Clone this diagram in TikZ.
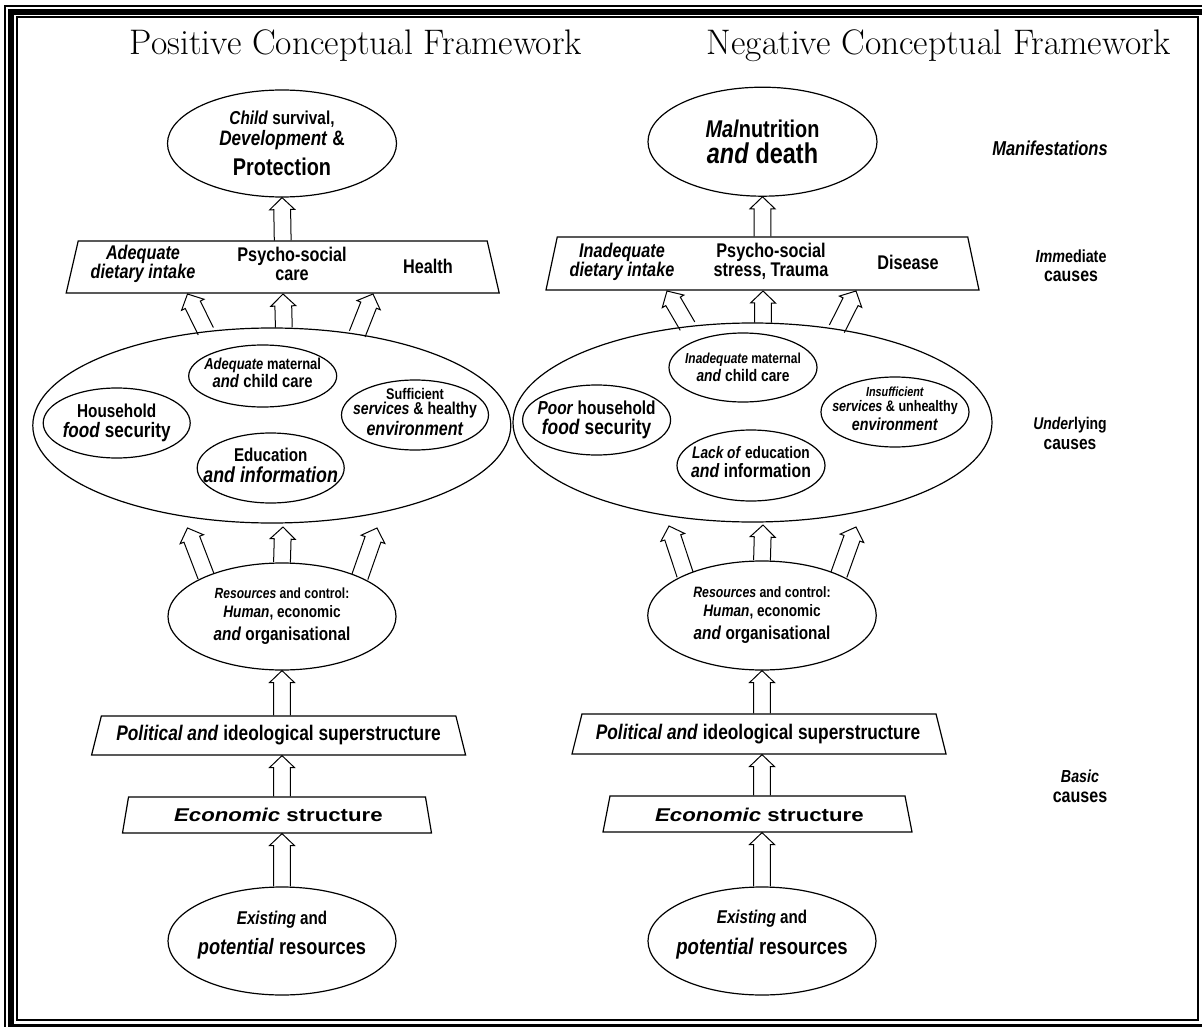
\documentclass[tikz,border=0pt]{standalone}
\usepackage{fontspec}
\usetikzlibrary{calc,shapes.geometric}

\newfontfamily\dg{Liberation Sans}[FakeStretch=0.82]
\newfontfamily\dgwide{Liberation Sans}[FakeStretch=1.2]
\newcommand{\fs}[1]{\fontsize{#1}{#1}\selectfont}

% hollow block arrow, base #1, tip #2
\newcommand{\hollowup}[2]{%
  \coordinate (hh) at ($(#2)!12pt!(#1)$);
  \draw[hollowarr] ($(#1)!8.4pt!90:(#2)$) -- ($(hh)!8.4pt!-90:(#1)$) -- ($(hh)!12.5pt!-90:(#1)$) -- (#2)
    -- ($(hh)!12.5pt!90:(#1)$) -- ($(hh)!8.4pt!90:(#1)$) -- ($(#1)!8.4pt!-90:(#2)$);
}

\tikzset{
  oval/.style={draw, ellipse, line width=1.2pt, inner sep=0pt},
  trap/.style={draw, trapezium, trapezium stretches body, line width=1.2pt, inner xsep=0pt},
  lbl/.style={align=center, inner sep=0pt, font=\dg\bfseries},
  lgap/.style={font=\dg\bfseries\fontsize{10}{#1}\selectfont},
  hollowarr/.style={line width=1pt, line join=miter},
}

\begin{document}
\begin{tikzpicture}[x=1pt, y=-1pt]
\clip (0,0) rectangle (1202,1027);
\fill[white] (0,0) rectangle (1202,1027);
% frame
\draw[line width=2pt] (4.5,5.8) rectangle (1211,1033);
\draw[line width=6pt] (11.3,12) rectangle (1204.5,1026.7);
\draw[line width=2pt] (16.7,17.2) rectangle (1198.2,1020.2);

% titles
\node[anchor=base, inner sep=0pt, font=\fontsize{35.5}{38}\selectfont] (posTitle) at (356,55) {Positive Conceptual Framework};
\node[anchor=base, inner sep=0pt, font=\fontsize{35.5}{38}\selectfont] (negTitle) at (939,55) {Negative Conceptual Framework};

% positive framework
\node[oval, minimum width=229pt, minimum height=107pt, label={[lbl, lgap=20.5]center:{\fs{18.7}\textit{Child} survival,\\\fs{20.9}\textit{Development} \&\\[7.5pt]\fs{24.2}Protection}}] (posTop) at (282,143.5) {};

\node[trap, minimum width=433pt, inner ysep=26pt, trapezium left angle=77, trapezium right angle=77] (posImm) at (282.7,267) {};
\node[lbl, lgap=19] (posDiet) at (143,264) {\fs{19.8}\textit{Adequate}\\\fs{19.8}\textit{dietary intake}};
\node[lbl, lgap=19] (posPsy) at (292,264) {\fs{19.8}Psycho-social\\\fs{19.8}care};
\node[lbl, font=\dg\bfseries\fs{19.8}] (posHealth) at (428,266) {Health};

\node[oval, minimum width=478pt, minimum height=195pt] (posUnd) at (271.8,425.5) {};
\node[oval, minimum width=148pt, minimum height=62pt, label={[lbl, lgap=18, yshift=3pt]center:{\fs{15.8}\textit{Adequate} maternal\\\fs{18.1}\textit{and} child care}}] (posCare) at (262.7,376) {};
\node[oval, minimum width=147pt, minimum height=70pt, label={[lbl, lgap=20]center:{\fs{18.7}Household\\\fs{20.9}\textit{food} security}}] (posFood) at (116.7,423) {};
\node[oval, minimum width=147pt, minimum height=70pt, label={[lbl, lgap=15.5, yshift=3pt]center:{\fs{15.4}Sufficient\\\fs{17.2}\textit{services} \& healthy\\[2.5pt]\fs{19.6}\textit{environment}}}] (posServ) at (415,415) {};
\node[oval, minimum width=147pt, minimum height=70pt, label={[lbl, lgap=21, yshift=3pt]center:{\fs{18.5}Education\\\fs{21.7}\textit{and information}}}] (posEdu) at (270.7,468) {};

\node[oval, minimum width=228pt, minimum height=107pt, label={[lbl, lgap=18.5]center:{\fs{14.7}\textit{Resources} and control:\\\fs{16.6}\textit{Human}, economic\\[5pt]\fs{18.7}\textit{and} organisational}}] (posRes) at (282,616.5) {};

\node[trap, minimum width=374pt, inner ysep=19.5pt, trapezium left angle=76, trapezium right angle=76] (posPol) at (278.6,735.5) {};
\node[lbl, font=\dg\bfseries\fs{21.1}] (posPolTxt) at (278.5,735) {\textit{Political and} ideological superstructure};

\node[trap, minimum width=309pt, inner ysep=18pt, trapezium left angle=80.5, trapezium right angle=80.5] (posEco) at (277,815) {};
\node[lbl, font=\dgwide\bfseries\fs{18.5}] (posEcoTxt) at (278.4,815) {\textit{Economic} structure};

\node[oval, minimum width=228pt, minimum height=108pt, label={[lbl, lgap=30, yshift=6pt]center:{\fs{18.5}\textit{Existing} and\\\fs{22.2}\textit{potential} resources}}] (posExist) at (282,941) {};

% arrows, positive
\hollowup{posImm.north}{posTop.south}
\coordinate (pu1) at (187.5,294);
\coordinate (pu2) at (283,294);
\coordinate (pu3) at (373,294);
\hollowup{posUnd.125}{pu1}
\hollowup{posUnd.83}{pu2}
\hollowup{posUnd.47}{pu3}
\coordinate (pl1) at (187.5,528);
\coordinate (pl2) at (283,527);
\coordinate (pl3) at (377,528);
\hollowup{posRes.152}{pl1}
\hollowup{posRes.north}{pl2}
\hollowup{posRes.27}{pl3}
\coordinate (pp1) at (posPol.north -| posRes.south);
\hollowup{pp1}{posRes.south}
\coordinate (pe1) at (posEco.north -| posRes.south);
\coordinate (pe2) at (posPol.south -| posRes.south);
\hollowup{pe1}{pe2}
\coordinate (px1) at (posEco.south -| posExist.north);
\hollowup{posExist.north}{px1}

% negative framework
\node[oval, minimum width=229pt, minimum height=109pt, label={[lbl, lgap=25.5]center:{\fs{24.2}\textit{Mal}nutrition\\\fs{28.6}\textit{and} death}}] (negTop) at (762.5,141.7) {};

\node[trap, minimum width=433pt, inner ysep=26.5pt, trapezium left angle=78, trapezium right angle=78] (negImm) at (762.5,263.5) {};
\node[lbl, lgap=19] (negDiet) at (622,261.5) {\fs{19.8}\textit{Inadequate}\\\fs{19.8}\textit{dietary intake}};
\node[lbl, lgap=19] (negPsy) at (771,261.5) {\fs{19.8}Psycho-social\\\fs{19.8}stress, Trauma};
\node[lbl, font=\dg\bfseries\fs{19.8}] (negDis) at (908,262) {Disease};

\node[oval, minimum width=479pt, minimum height=199pt] (negUnd) at (752.5,422.5) {};
\node[oval, minimum width=148pt, minimum height=69pt, label={[lbl, lgap=18]center:{\fs{14.5}\textit{Inadequate} maternal\\\fs{16.8}\textit{and} child care}}] (negCare) at (743,367.5) {};
\node[oval, minimum width=148pt, minimum height=70pt, label={[lbl, lgap=20]center:{\fs{18.8}\textit{Poor} household\\\fs{21.2}\textit{food} security}}] (negFood) at (596.6,420) {};
\node[oval, minimum width=148pt, minimum height=70pt, label={[lbl, lgap=15, yshift=3pt]center:{\fs{13.2}\textit{Insufficient}\\\fs{15.3}\textit{services} \& unhealthy\\[2pt]\fs{17.4}\textit{environment}}}] (negServ) at (895,412) {};
\node[oval, minimum width=148pt, minimum height=71pt, label={[lbl, lgap=19, yshift=3pt]center:{\fs{16.7}\textit{Lack of} education\\\fs{19.3}\textit{and} information}}] (negEdu) at (751,465.5) {};

\node[oval, minimum width=228.5pt, minimum height=109pt, label={[lbl, lgap=19]center:{\fs{15}\textit{Resources} and control:\\\fs{16.6}\textit{Human}, economic\\[4pt]\fs{18.7}\textit{and} organisational}}] (negRes) at (762,615.5) {};

\node[trap, minimum width=374pt, inner ysep=20pt, trapezium left angle=76, trapezium right angle=76] (negPol) at (759,734) {};
\node[lbl, font=\dg\bfseries\fs{21.1}] (negPolTxt) at (758,734) {\textit{Political and} ideological superstructure};

\node[trap, minimum width=309pt, inner ysep=18pt, trapezium left angle=79, trapezium right angle=79] (negEco) at (757.5,814) {};
\node[lbl, font=\dgwide\bfseries\fs{18.5}] (negEcoTxt) at (759.4,815) {\textit{Economic} structure};

\node[oval, minimum width=228pt, minimum height=108pt, label={[lbl, lgap=31, yshift=6pt]center:{\fs{18.5}\textit{Existing} and\\\fs{22.6}\textit{potential} resources}}] (negExist) at (762,941) {};

% arrows, negative
\hollowup{negImm.north}{negTop.south}
\coordinate (nu1) at (667,291);
\coordinate (nu2) at (763,291);
\coordinate (nu3) at (856,291);
\hollowup{negUnd.124}{nu1}
\hollowup{negUnd.84}{nu2}
\hollowup{negUnd.48}{nu3}
\coordinate (nl1) at (669,526);
\coordinate (nl2) at (763,525);
\coordinate (nl3) at (856,527);
\hollowup{negRes.152}{nl1}
\hollowup{negRes.north}{nl2}
\hollowup{negRes.28}{nl3}
\coordinate (np1) at (negPol.north -| negRes.south);
\hollowup{np1}{negRes.south}
\coordinate (ne1) at (negEco.north -| negRes.south);
\coordinate (ne2) at (negPol.south -| negRes.south);
\hollowup{ne1}{ne2}
\coordinate (nx1) at (negEco.south -| negExist.north);
\hollowup{negExist.north}{nx1}

% level labels
\node[lbl, font=\dg\bfseries\fs{20.1}] (manif) at (1050,148) {\textit{Manifestations}};
\node[lbl, lgap=19] (immLbl) at (1071,266) {\fs{17.5}\textit{Imm}ediate\\\fs{19.4}causes};
\node[lbl, lgap=20] (undLbl) at (1070,433) {\fs{17}\textit{Under}lying\\\fs{18.9}causes};
\node[lbl, lgap=20] (basLbl) at (1080,786) {\fs{17.4}\textit{Basic}\\\fs{19.6}causes};
\end{tikzpicture}
\end{document}
